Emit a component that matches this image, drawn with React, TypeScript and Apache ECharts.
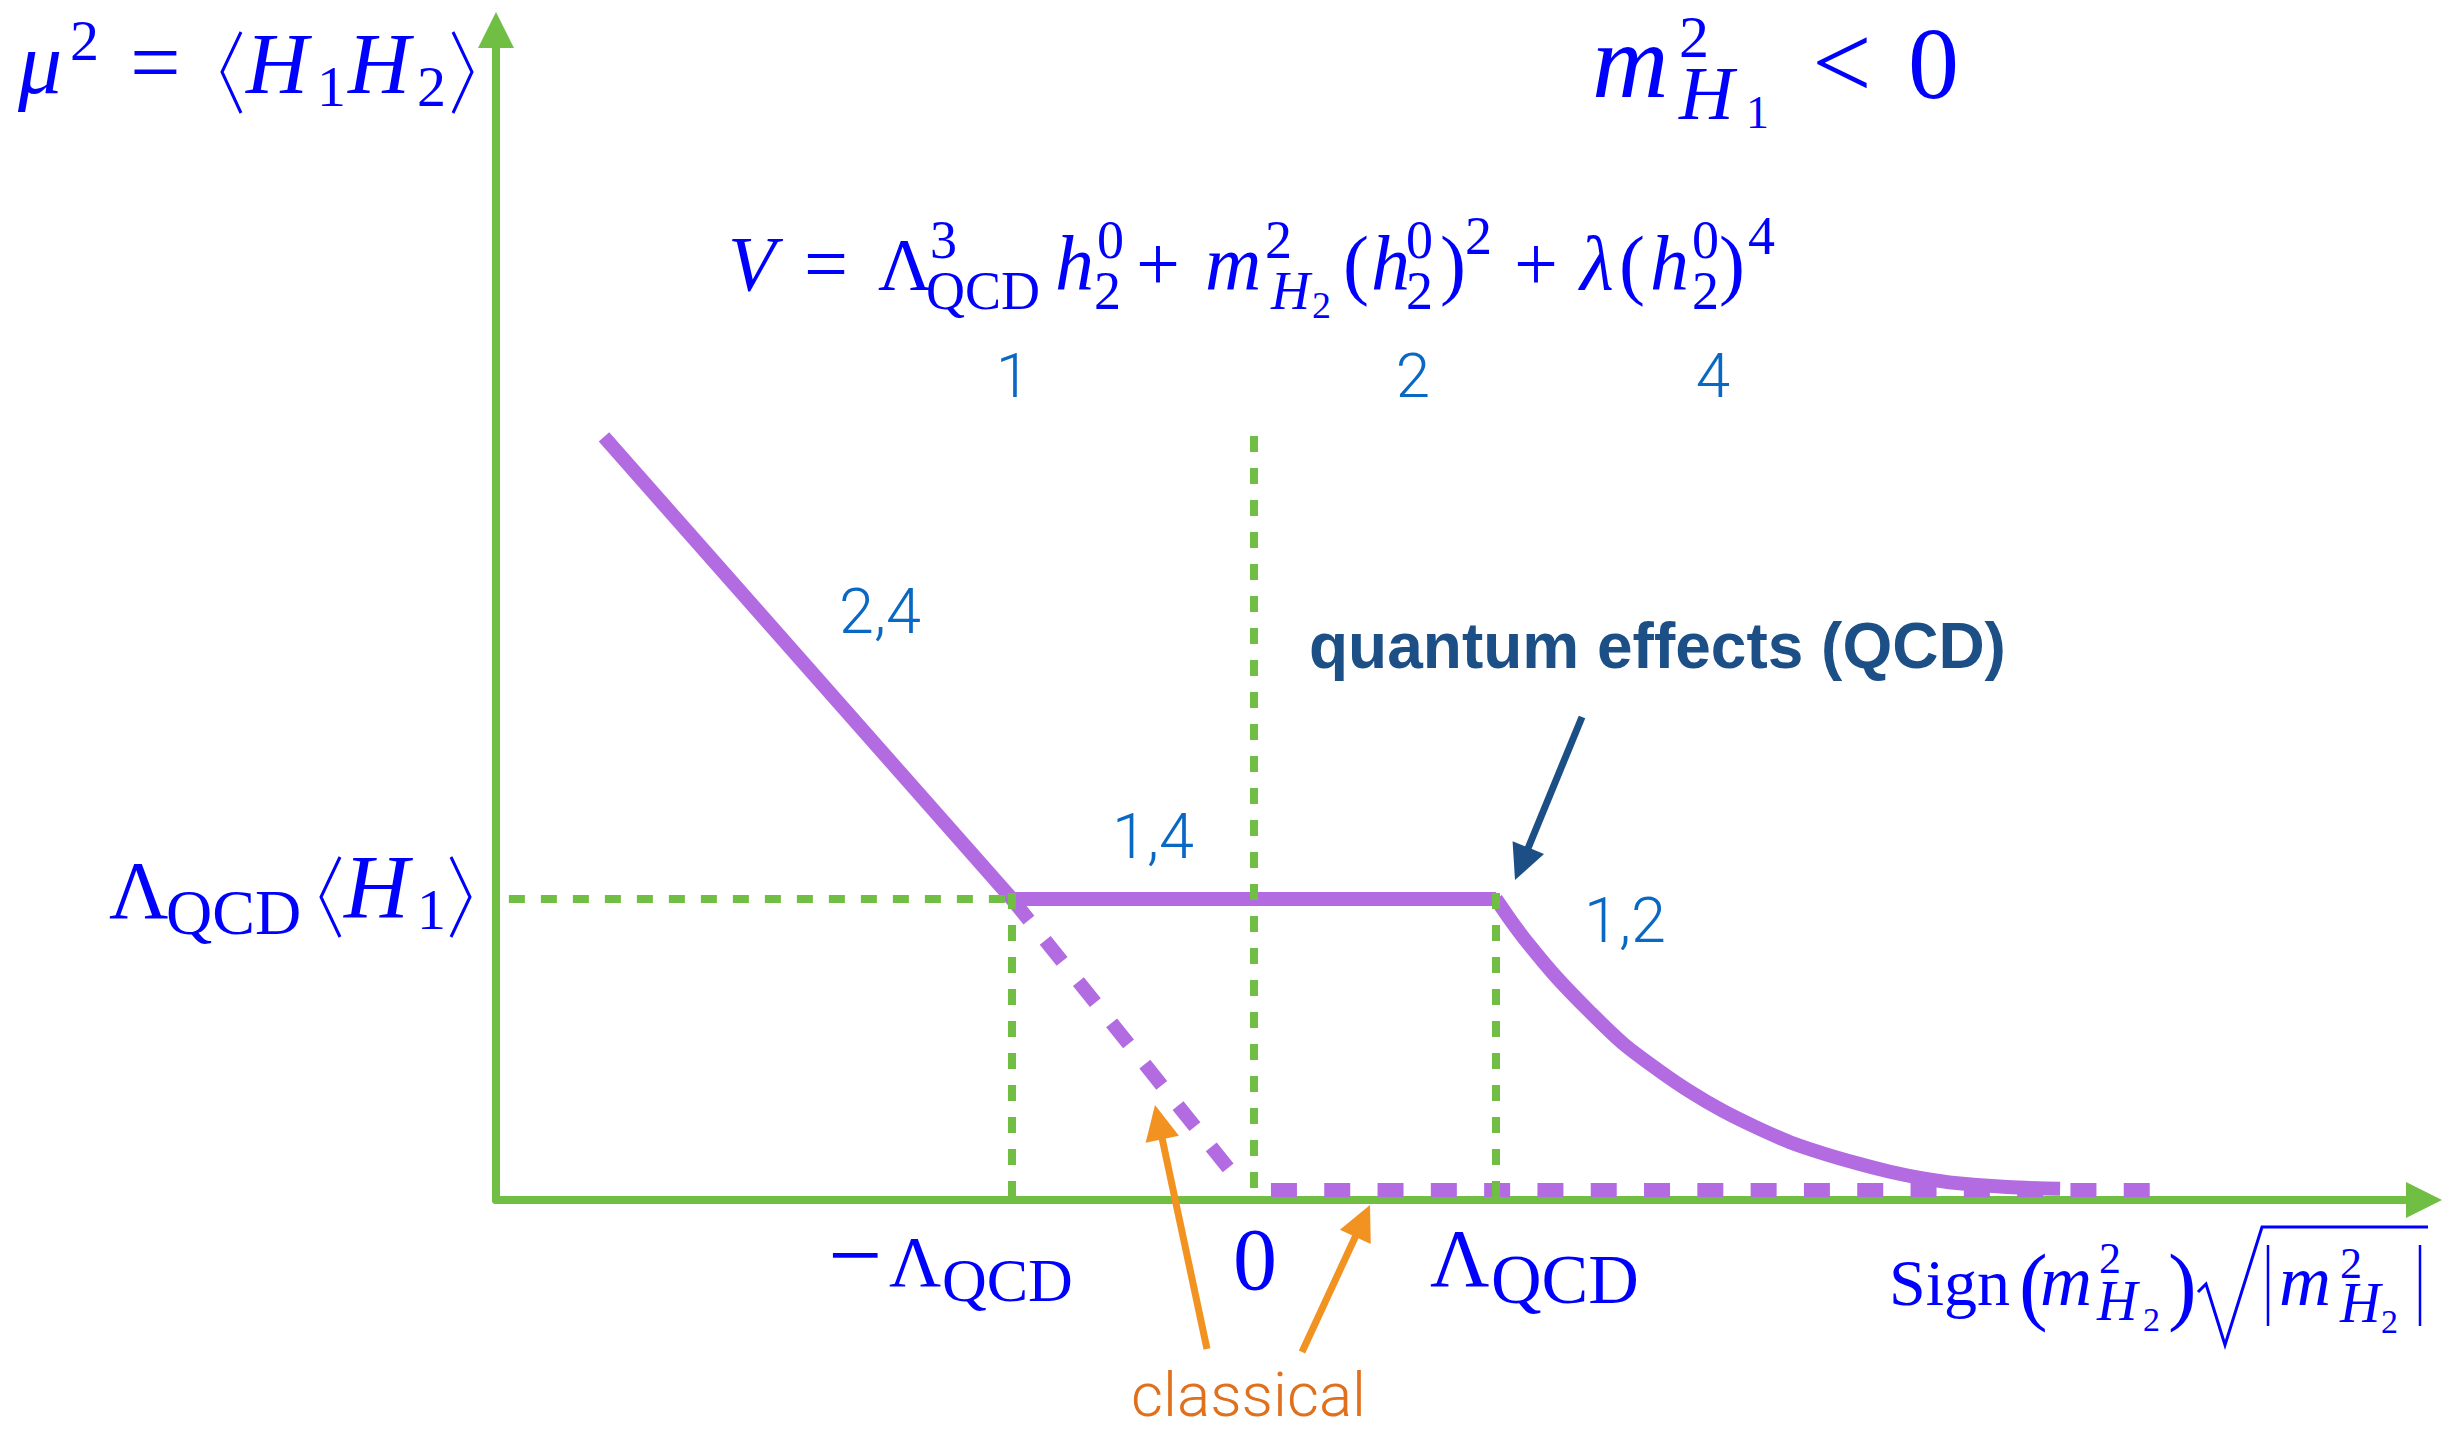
import React, { useEffect, useRef } from "react";
import * as echarts from "echarts";

// ---- data (x in units of Λ_QCD, y in units of Λ_QCD⟨H1⟩) ----
const tickValues = [-1, 0, 1];
const tickNames = ["−Λ_QCD", "0", "Λ_QCD"];
const coefficientLabels = ["1", "2", "4"];
const regionLabels = ["2,4", "1,4", "1,2"];

// classical branch μ² ∝ −m for negative m², continued (dashed) to the origin
const classicalSolid = [[-2.686, 2.535], [-1, 1]];
const classicalDashed = [[-1, 1], [-0.05, 0.05]];
// classical solution μ² = 0 for positive m²
const classicalZero = [[0.07, 0.033], [3.702, 0.033]];
// QCD plateau and its decaying tail
const plateau = [[-1, 1], [1, 1]];
const quantumTail = [
  [1.0, 1.0], [1.06, 0.93], [1.13, 0.855], [1.25, 0.74], [1.388, 0.625],
  [1.525, 0.52], [1.665, 0.435], [1.802, 0.36], [1.938, 0.296], [2.079, 0.24],
  [2.215, 0.192], [2.351, 0.155], [2.492, 0.122], [2.628, 0.094], [2.764, 0.072],
  [2.905, 0.056], [3.112, 0.043], [3.331, 0.037],
];
// guide lines
const guideLevel = [[-3.079, 1], [-1, 1]];
const guideNeg = [[-1, 0.01], [-1, 1.02]];
const guideZero = [[0, 0.04], [0, 2.54]];
const guidePos = [[1, 0.01], [1, 1.02]];

const X_MIN = -3.1322;
const X_MAX = 4.8347;
const Y_MAX = 3.887;

// ---- styles ----
const BLUE = "#0000ff";
const NUM = "#0a68c5";
const DARK = "#1b4f86";
const ORANGE = "#f29220";
const ORANGE_TEXT = "#e0701c";
const GREEN = "#70be44";
const PURPLE = "#b36be1";
const SERIF = '"Liberation Serif", "Times New Roman", serif';
const SANS_LIGHT = 'Roboto, "Liberation Sans", sans-serif';
const SANS_BOLD = '"Liberation Sans", Arial, sans-serif';

type El = any;

// text placed by its alphabetic baseline
function mt(text: string, x: number, base: number, size: number, opts: any = {}): El {
  const { italic = false, color = BLUE, family = SERIF, weight = "normal", align = "left" } = opts;
  return {
    type: "text",
    x,
    y: base - 0.34 * size,
    silent: true,
    z: 20,
    style: {
      text,
      fill: color,
      fontFamily: family,
      fontSize: size,
      lineHeight: Math.round(size * 0.8),
      fontStyle: italic ? "italic" : "normal",
      fontWeight: weight,
      align,
      verticalAlign: "middle",
    },
  };
}

function strokePath(points: number[][], width = 3, color = BLUE): El {
  return {
    type: "polyline",
    silent: true,
    z: 20,
    shape: { points },
    style: { stroke: color, lineWidth: width, fill: null, lineJoin: "miter" },
  };
}

function arrow(tail: number[], tip: number[], color: string, width = 7, headLen = 35, headW = 34): El[] {
  const dx = tip[0] - tail[0];
  const dy = tip[1] - tail[1];
  const len = Math.hypot(dx, dy);
  const ux = dx / len;
  const uy = dy / len;
  const bx = tip[0] - ux * headLen;
  const by = tip[1] - uy * headLen;
  const nx = -uy;
  const ny = ux;
  return [
    {
      type: "line",
      silent: true,
      z: 20,
      shape: { x1: tail[0], y1: tail[1], x2: bx + ux * 2, y2: by + uy * 2 },
      style: { stroke: color, lineWidth: width },
    },
    {
      type: "polygon",
      silent: true,
      z: 20,
      shape: {
        points: [
          [tip[0], tip[1]],
          [bx + (nx * headW) / 2, by + (ny * headW) / 2],
          [bx - (nx * headW) / 2, by - (ny * headW) / 2],
        ],
      },
      style: { fill: color },
    },
  ];
}

function lineSeries(data: number[][], color: string, width: number, opts: any = {}) {
  return {
    type: "line",
    data,
    showSymbol: false,
    symbol: "none",
    silent: true,
    clip: false,
    z: opts.z ?? 2,
    smooth: opts.smooth ?? false,
    lineStyle: {
      color,
      width,
      type: opts.dash ?? "solid",
      cap: "butt",
      join: "miter",
    },
  };
}

export default function App() {
  const ref = useRef<HTMLDivElement>(null);

  useEffect(() => {
    if (!ref.current) return;
    const chart = echarts.init(ref.current, undefined, { renderer: "svg" });

    const axisCommon = {
      type: "value",
      axisTick: { show: false },
      axisLabel: { show: false },
      splitLine: { show: false },
    };

    chart.setOption({
      animation: false,
      backgroundColor: "#ffffff",
      grid: { left: 496, top: 30, width: 1928, height: 1170 },
      xAxis: {
        ...axisCommon,
        min: X_MIN,
        max: X_MAX,
        axisLine: {
          show: true,
          onZero: false,
          symbol: ["none", "triangle"],
          symbolSize: [36, 36],
          lineStyle: { color: GREEN, width: 8 },
        },
      },
      yAxis: {
        ...axisCommon,
        min: 0,
        max: Y_MAX,
        axisLine: {
          show: true,
          onZero: false,
          symbol: ["none", "triangle"],
          symbolSize: [36, 36],
          lineStyle: { color: GREEN, width: 8 },
        },
      },
      series: [
        lineSeries(classicalSolid, PURPLE, 14),
        lineSeries(classicalDashed, PURPLE, 14, { dash: [27, 26] }),
        lineSeries(classicalZero, PURPLE, 14, { dash: [26, 27.3] }),
        lineSeries(plateau, PURPLE, 14),
        lineSeries(quantumTail, PURPLE, 14, { smooth: 0.3 }),
        lineSeries(guideLevel, GREEN, 8, { dash: [16, 16], z: 3 }),
        lineSeries(guideNeg, GREEN, 8, { dash: [16, 16], z: 3 }),
        lineSeries(guideZero, GREEN, 8, { dash: [16, 16], z: 3 }),
        lineSeries(guidePos, GREEN, 8, { dash: [16, 16], z: 3 }),
      ],
    });

    const px = (v: number) => chart.convertToPixel({ xAxisIndex: 0 }, v) as number;
    const [xNeg, xZero, xPos] = tickValues.map(px);

    const g: El[] = [];

    // vertical axis title: μ² = ⟨H1 H2⟩
    g.push(mt("μ", 18, 93, 88, { italic: true }));
    g.push(mt("2", 70, 60, 58));
    g.push(mt("=", 130, 93, 90));
    g.push(strokePath([[241, 32], [222, 72], [241, 113]], 3));
    g.push(mt("H", 246, 93, 86, { italic: true }));
    g.push(mt("1", 317, 106, 58));
    g.push(mt("H", 348, 93, 86, { italic: true }));
    g.push(mt("2", 417, 106, 58));
    g.push(strokePath([[453, 32], [472, 72], [453, 113]], 3));

    // m²_H1 < 0
    g.push(mt("m", 1592, 98, 106, { italic: true }));
    g.push(mt("2", 1679, 57, 60));
    g.push(mt("H", 1679, 119, 76, { italic: true }));
    g.push(mt("1", 1746, 128, 46));
    g.push(mt("<", 1812, 99, 106));
    g.push(mt("0", 1908, 98, 102));

    // V = Λ³_QCD h⁰₂ + m²_H2 (h⁰₂)² + λ (h⁰₂)⁴
    const B = 290, SUP = 258, SUB = 309, S = 78, s = 54;
    g.push(mt("V", 728, B, S, { italic: true }));
    g.push(mt("=", 804, B, S));
    g.push(mt("Λ", 878, B, 74));
    g.push(mt("3", 930, SUP, s));
    g.push(mt("QCD", 926, SUB, s));
    g.push(mt("h", 1055, B, S, { italic: true }));
    g.push(mt("0", 1097, SUP, s));
    g.push(mt("2", 1094, SUB, s));
    g.push(mt("+", 1136, B, S));
    g.push(mt("m", 1205, B, S, { italic: true }));
    g.push(mt("2", 1265, SUP, s));
    g.push(mt("H", 1271, SUB, s, { italic: true }));
    g.push(mt("2", 1312, SUB + 9, 38));
    g.push(mt("(", 1343, B, S));
    g.push(mt("h", 1371, B, S, { italic: true }));
    g.push(mt("0", 1406, SUP, s));
    g.push(mt("2", 1406, SUB, s));
    g.push(mt(")", 1440, B, S));
    g.push(mt("2", 1465, SUP - 4, s));
    g.push(mt("+", 1514, B, S));
    g.push(mt("λ", 1580, B, S, { italic: true }));
    g.push(mt("(", 1619, B, S));
    g.push(mt("h", 1650, B, S, { italic: true }));
    g.push(mt("0", 1692, SUP, s));
    g.push(mt("2", 1692, SUB, s));
    g.push(mt(")", 1719, B, S));
    g.push(mt("4", 1748, SUP - 4, s));

    // powers of h under the potential terms
    const coefX = [1013, 1413, 1713];
    coefficientLabels.forEach((t, i) =>
      g.push(mt(t, coefX[i], 397, 62, { color: NUM, family: SANS_LIGHT, weight: 300, align: "center" }))
    );

    // dominant terms in each region
    g.push(mt(regionLabels[0], 839, 633, 63, { color: NUM, family: SANS_LIGHT, weight: 300 }));
    g.push(mt(regionLabels[1], 1112, 858, 63, { color: NUM, family: SANS_LIGHT, weight: 300 }));
    g.push(mt(regionLabels[2], 1584, 942, 63, { color: NUM, family: SANS_LIGHT, weight: 300 }));

    // annotations
    g.push(mt("quantum effects (QCD)", 1309, 668, 64, { color: DARK, family: SANS_BOLD, weight: "bold" }));
    g.push(...arrow([1582, 717], [1515, 880], DARK));
    g.push(mt("classical", 1131, 1416, 62, { color: ORANGE_TEXT, family: SANS_LIGHT, weight: 300 }));
    g.push(...arrow([1207, 1349], [1155, 1105], ORANGE));
    g.push(...arrow([1302, 1352], [1370, 1205], ORANGE));

    // plateau level on the vertical axis: Λ_QCD⟨H1⟩
    g.push(mt("Λ", 109, 918, 82));
    g.push(mt("QCD", 166, 934, 64));
    g.push(strokePath([[340, 857], [321, 897], [340, 937]], 3));
    g.push(mt("H", 344, 918, 90, { italic: true }));
    g.push(mt("1", 417, 929, 58));
    g.push(strokePath([[451, 857], [470, 897], [451, 937]], 3));

    // tick labels
    g.push(mt("−", xNeg - 184, 1287, 96));
    g.push(mt("Λ", xNeg - 123, 1286, 72));
    g.push(mt("QCD", xNeg - 70, 1301, 62));
    g.push(mt(tickNames[1], xZero + 1, 1289, 88, { align: "center" }));
    g.push(mt("Λ", xPos - 66, 1286, 82));
    g.push(mt("QCD", xPos - 5, 1303, 70));

    // horizontal axis title: Sign(m²_H2) √|m²_H2|
    g.push(mt("Sign", 1889, 1305, 66));
    g.push(mt("(", 2019, 1314, 86));
    g.push(mt("m", 2040, 1305, 72, { italic: true }));
    g.push(mt("2", 2099, 1273, 44));
    g.push(mt("H", 2097, 1320, 56, { italic: true }));
    g.push(mt("2", 2143, 1331, 34));
    g.push(mt(")", 2168, 1314, 86));
    g.push(strokePath([[2198, 1292], [2206, 1284], [2225, 1345], [2262, 1227], [2428, 1227]], 3));
    g.push({ type: "line", silent: true, z: 20, shape: { x1: 2268, y1: 1245, x2: 2268, y2: 1326 }, style: { stroke: BLUE, lineWidth: 2.5 } });
    g.push(mt("m", 2279, 1305, 72, { italic: true }));
    g.push(mt("2", 2340, 1278, 44));
    g.push(mt("H", 2340, 1322, 56, { italic: true }));
    g.push(mt("2", 2381, 1333, 34));
    g.push({ type: "line", silent: true, z: 20, shape: { x1: 2420, y1: 1245, x2: 2420, y2: 1326 }, style: { stroke: BLUE, lineWidth: 2.5 } });

    chart.setOption({ graphic: g });

    return () => chart.dispose();
  }, []);

  return (
    <div
      ref={ref}
      style={{ position: "fixed", left: 0, top: 0, width: 2456, height: 1433, background: "#fff" }}
    />
  );
}
